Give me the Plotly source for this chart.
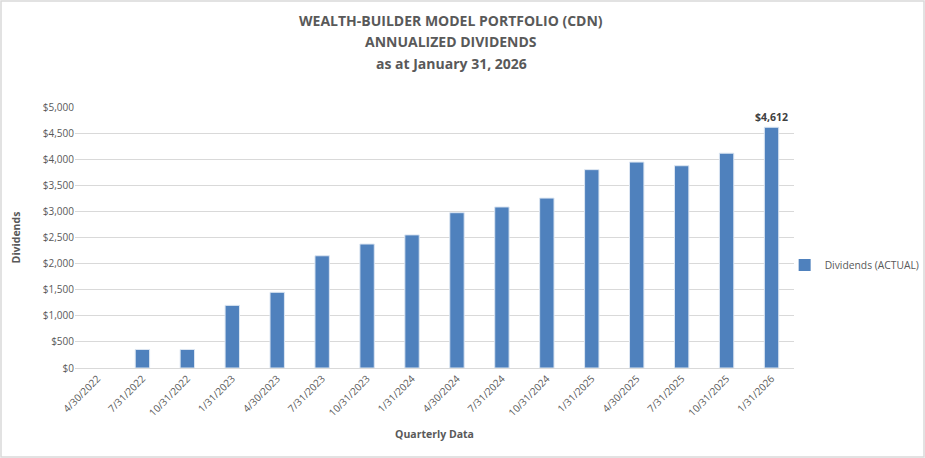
import plotly.graph_objects as go

# quarterly dates and annualized dividends
quarters = ["4/30/2022", "7/31/2022", "10/31/2022", "1/31/2023", "4/30/2023",
            "7/31/2023", "10/31/2023", "1/31/2024", "4/30/2024", "7/31/2024",
            "10/31/2024", "1/31/2025", "4/30/2025", "7/31/2025", "10/31/2025",
            "1/31/2026"]
dividends = [0, 355, 355, 1200, 1450, 2150, 2375, 2550, 2975, 3085,
             3255, 3800, 3945, 3875, 4115, 4612]
y_ticks = [0, 500, 1000, 1500, 2000, 2500, 3000, 3500, 4000, 4500, 5000]
title_lines = ["WEALTH-BUILDER MODEL PORTFOLIO (CDN)",
               "ANNUALIZED DIVIDENDS",
               "as at January 31, 2026"]

FONT = "Open Sans"
GREY = "#595959"
PLOT_W, PLOT_H = 719, 261

# label only the latest value
labels = [""] * (len(dividends) - 1) + ["<b>${:,}</b>".format(dividends[-1])]
edge = [0 if v == 0 else 1 for v in dividends]

fig = go.Figure()
fig.add_trace(go.Bar(
    x=quarters,
    y=dividends,
    name="Dividends (ACTUAL)",
    marker=dict(color="#4F81BD", line=dict(color="#DCE6F2", width=edge)),
    text=labels,
    textposition="outside",
    constraintext="none",
    textfont=dict(family=FONT, size=10.5, color="#404040"),
    cliponaxis=False,
    showlegend=True,
))

fig.update_layout(
    width=925,
    height=458,
    margin=dict(l=75, r=131, t=107, b=90, autoexpand=False),
    paper_bgcolor="white",
    plot_bgcolor="white",
    bargap=0.68,
    font=dict(family=FONT, color=GREY, size=10),
    legend=dict(
        x=0.987, y=0.395, xanchor="left", yanchor="middle",
        bgcolor="rgba(0,0,0,0)",
        font=dict(family=FONT, size=10.3, color=GREY),
        itemwidth=30,
    ),
    showlegend=True,
)

# three centred title lines
for i, line in enumerate(title_lines):
    fig.add_annotation(
        text="<b>" + line + "</b>",
        xref="paper", yref="paper",
        x=(451 - 75) / PLOT_W, y=(368 - 20 - 22 * i) / PLOT_H,
        xanchor="center", yanchor="middle",
        showarrow=False,
        font=dict(family=FONT, size=14, color=GREY),
    )

fig.update_yaxes(
    range=[0, 5000],
    tickvals=y_ticks,
    tickformat="$,.0f",
    showgrid=True,
    gridcolor="#D9D9D9",
    zeroline=False,
    automargin=False,
    tickfont=dict(size=10, color=GREY),
    title=dict(text="<b>Dividends</b>", font=dict(size=10.5, color=GREY), standoff=20),
)
fig.update_xaxes(
    type="category",
    tickangle=-45,
    showline=True,
    linecolor="#D9D9D9",
    automargin=False,
    tickfont=dict(size=10, color=GREY),
    title=dict(text="<b>Quarterly Data</b>", font=dict(size=10.5, color=GREY), standoff=12),
)

# thin grey frame round the whole chart
fig.add_shape(type="rect", xref="paper", yref="paper",
              x0=-74 / PLOT_W, x1=849 / PLOT_W, y0=-89 / PLOT_H, y1=367 / PLOT_H,
              line=dict(color="#D9D9D9", width=1.5))

# drop the browser's default page margin so the chart sits at the corner
fig.write_html("out.html", config={"displayModeBar": False},
               post_script="document.body.style.margin='0';")
